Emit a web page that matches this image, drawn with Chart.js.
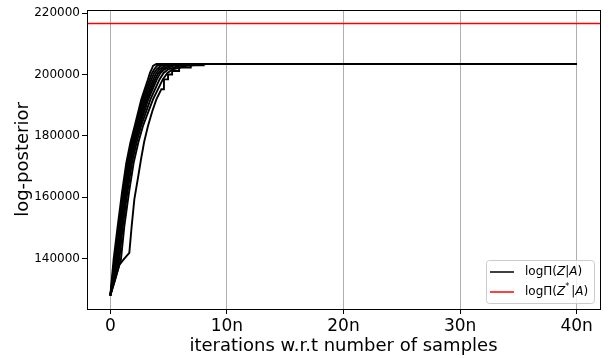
<!DOCTYPE html>
<html>
<head>
<meta charset="utf-8">
<script src="https://cdn.jsdelivr.net/npm/chart.js@4.4.1/dist/chart.umd.min.js"></script>
<style>
  html, body { margin: 0; padding: 0; background: #fff; }
  #wrap { width: 613px; height: 358px; }
</style>
</head>
<body>
<div id="wrap"><canvas id="mycanvas" width="613" height="358"></canvas></div>
<script>
// runs: iterations (in units of n) and log-posterior values
var runX = [
  [0, 0.28, 0.63, 1.00, 1.37, 1.72, 2.09, 2.66, 3.23, 3.40, 3.55, 3.66, 3.95, 40],
  [0, 0.36, 0.70, 1.08, 1.45, 1.81, 2.18, 2.78, 3.38, 3.58, 3.77, 4.00, 4.47, 40],
  [0, 0.43, 0.77, 1.15, 1.52, 1.89, 2.26, 2.90, 3.53, 3.76, 3.99, 4.35, 4.98, 40],
  [0, 0.51, 0.84, 1.22, 1.60, 1.97, 2.35, 3.02, 3.69, 3.94, 4.21, 4.69, 5.50, 40],
  [0, 0.58, 0.90, 1.28, 1.67, 2.05, 2.43, 3.14, 3.84, 4.12, 4.43, 5.04, 6.01, 40],
  [0, 0.66, 0.97, 1.36, 1.75, 2.13, 2.52, 3.26, 3.99, 4.30, 4.65, 5.38, 6.53, 40],
  [0, 0.77, 1.07, 1.46, 1.86, 2.25, 2.64, 3.44, 4.22, 4.57, 4.98, 5.90, 7.30, 40],
  [0, 0.91, 1.20, 1.60, 2.00, 2.40, 2.80, 3.66, 4.50, 4.90, 5.38, 6.53, 8.25, 40],
  [0, 0.40, 0.77, 1.20, 1.63, 1.83, 2.06, 2.35, 2.63, 2.90, 3.23, 3.60, 3.95, 4.38, 4.60, 4.60, 4.95, 4.95, 5.30, 5.30, 5.90, 5.90, 6.90, 6.90, 8.0, 8.0, 40]
];
var runY = [
  [128000, 139700, 150500, 161500, 171200, 177800, 183200, 191900, 198400, 200500, 201700, 202800, 203400, 203400],
  [128000, 139700, 150500, 161500, 171200, 177800, 183200, 191900, 198400, 200500, 201700, 202800, 203400, 203400],
  [128000, 139700, 150500, 161500, 171200, 177800, 183200, 191900, 198400, 200500, 201700, 202800, 203400, 203400],
  [128000, 139700, 150500, 161500, 171200, 177800, 183200, 191900, 198400, 200500, 201700, 202800, 203400, 203400],
  [128000, 139700, 150500, 161500, 171200, 177800, 183200, 191900, 198400, 200500, 201700, 202800, 203400, 203400],
  [128000, 139700, 150500, 161500, 171200, 177800, 183200, 191900, 198400, 200500, 201700, 202800, 203400, 203400],
  [128000, 139700, 150500, 161500, 171200, 177800, 183200, 191900, 198400, 200500, 201700, 202800, 203400, 203400],
  [128000, 139700, 150500, 161500, 171200, 177800, 183200, 191900, 198400, 200500, 201700, 202800, 203400, 203400],
  [128000, 133000, 138000, 140000, 141900, 150500, 159300, 165800, 172300, 178000, 183200, 188000, 191900, 195200, 195200, 198400, 198400, 200000, 200000, 201150, 201150, 202260, 202260, 203000, 203000, 203400, 203400]
];
var trueLogPost = 216600;
var xLimits = [-2, 42];
var yLimits = [123600, 221000];
var xTicks = [0, 10, 20, 30, 40];
var yTicks = [140000, 160000, 180000, 200000, 220000];
var legendLabels = [["log\u03A0(", ["Z", true], "|", ["A", true], ")"],
                    ["log\u03A0(", ["Z", true], ["*", false, true], "|", ["A", true], ")"]];
var legendColors = ["#000000", "#ff0000"];

var FONT = "'DejaVu Sans', sans-serif";
Chart.defaults.color = "#000";
Chart.defaults.font.family = FONT;

var datasets = [];
for (var i = 0; i < runX.length; i++) {
  var pts = [];
  for (var j = 0; j < runX[i].length; j++) pts.push({x: runX[i][j], y: runY[i][j]});
  datasets.push({
    label: "run " + (i + 1),
    data: pts,
    borderColor: "#000",
    borderWidth: 1.9,
    pointRadius: 0,
    fill: false,
    tension: 0
  });
}
datasets.push({
  label: "true",
  data: [{x: xLimits[0], y: trueLogPost}, {x: xLimits[1], y: trueLogPost}],
  borderColor: "#ff0000",
  borderWidth: 1.5,
  pointRadius: 0,
  fill: false
});

// frame around the axes + matplotlib style legend
var framePlugin = {
  id: "frame",
  afterDraw: function(chart) {
    var ctx = chart.ctx, a = chart.chartArea;
    ctx.save();
    ctx.strokeStyle = "#000";
    ctx.lineWidth = 1;
    ctx.strokeRect(Math.round(a.left) + 0.5, Math.round(a.top) + 0.5,
                   Math.round(a.right - a.left), Math.round(a.bottom - a.top));

    // legend box
    var bw = 108, bh = 43;
    var bx = a.right - 6 - bw, by = a.bottom - 6 - bh;
    ctx.fillStyle = "rgba(255,255,255,0.8)";
    ctx.strokeStyle = "#cccccc";
    ctx.beginPath();
    ctx.roundRect(bx + 0.5, by + 0.5, bw, bh, 3);
    ctx.fill();
    ctx.stroke();
    for (var k = 0; k < legendLabels.length; k++) {
      var ly = by + 12 + k * 20;
      ctx.strokeStyle = legendColors[k];
      ctx.lineWidth = 1.5;
      ctx.beginPath();
      ctx.moveTo(bx + 4, ly);
      ctx.lineTo(bx + 28, ly);
      ctx.stroke();
      var tx = bx + 39;
      ctx.fillStyle = "#000";
      ctx.textBaseline = "middle";
      var parts = legendLabels[k];
      for (var p = 0; p < parts.length; p++) {
        var s = parts[p], it = false, sup = false;
        if (typeof s !== "string") { it = !!s[1]; sup = !!s[2]; s = s[0]; }
        ctx.font = (it ? "italic " : "") + (sup ? "8px " : "12px ") + FONT;
        ctx.fillText(s, tx, sup ? ly - 5 : ly);
        tx += ctx.measureText(s).width + (sup ? 2 : 0);
      }
    }
    ctx.restore();
  }
};

var ctx = document.getElementById("mycanvas");
var chart = new Chart(ctx, {
  type: "line",
  data: { datasets: datasets },
  options: {
    responsive: false,
    animation: false,
    layout: { padding: { top: 10, right: 13, left: 0, bottom: 0 } },
    plugins: { legend: { display: false }, tooltip: { enabled: false } },
    scales: {
      x: {
        type: "linear",
        min: xLimits[0],
        max: xLimits[1],
        afterBuildTicks: function(s) { s.ticks = xTicks.map(function(v) { return {value: v}; }); },
        afterFit: function(s) { s.height = 49; },
        border: { display: false },
        grid: { color: "#b0b0b0", lineWidth: 1, tickColor: "#000", tickLength: 5 },
        ticks: {
          font: { size: 17 },
          padding: 2,
          maxRotation: 0,
          callback: function(v) { return v === 0 ? "0" : v + "n"; }
        },
        title: {
          display: true,
          text: "iterations w.r.t number of samples",
          font: { size: 18 },
          padding: { top: 0, bottom: 1 }
        }
      },
      y: {
        type: "linear",
        min: yLimits[0],
        max: yLimits[1],
        afterBuildTicks: function(s) { s.ticks = yTicks.map(function(v) { return {value: v}; }); },
        afterFit: function(s) { s.width = 87; },
        border: { display: false },
        grid: { drawOnChartArea: false, tickColor: "#000", tickLength: 5 },
        ticks: { font: { size: 12 }, padding: 2, callback: function(v) { return String(v); } },
        title: {
          display: true,
          text: "log-posterior",
          font: { size: 18 },
          padding: { top: 13, bottom: 0 }
        }
      }
    }
  },
  plugins: [framePlugin]
});
</script>
</body>
</html>
